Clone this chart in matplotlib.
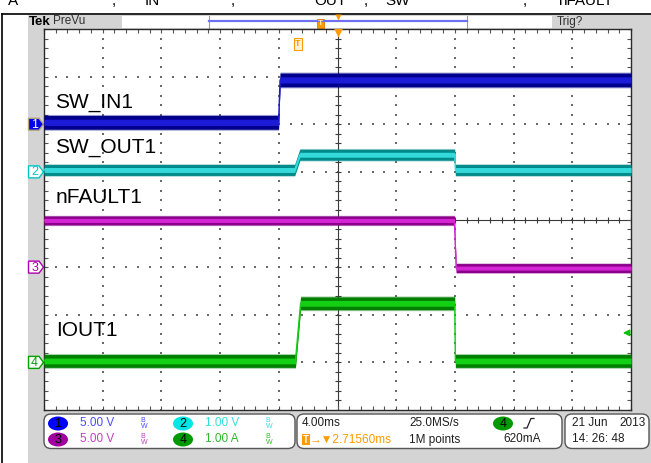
import matplotlib.pyplot as plt
import numpy as np
from matplotlib import font_manager
from matplotlib.patches import Rectangle, Polygon, Ellipse, FancyBboxPatch

# acquisition settings
TIME_DIV = 4.0          # ms/div
TRIG_DELAY = 2.7156     # ms from trigger to screen centre
TRIG_LEVEL = 0.62       # A, ch4 rising edge
SAMPLE_RATE = '25.0MS/s'
RECORD = '1M points'

ch_names = ['SW_IN1', 'SW_OUT1', 'nFAULT1', 'IOUT1']
ch_scale = [5.0, 1.0, 5.0, 1.0]          # units per division
ch_offset = [6.0, 5.0, 3.0, 1.0]         # ground marker, divisions from bottom
ch_scale_text = ['5.00 V', '1.00 V', '5.00 V', '1.00 A']

# captured waveforms, time in ms relative to trigger
sw_in_t = [-17.28, -1.3, -1.2, 22.72]
sw_in_v = [0.2, 0.2, 4.65, 4.65]
sw_out_t = [-17.28, -0.2, 0.15, 10.7, 10.75, 22.72]
sw_out_v = [0.04, 0.04, 0.36, 0.36, 0.04, 0.04]
nfault_t = [-17.28, 10.68, 10.8, 22.72]
nfault_v = [4.9, 4.9, -0.1, -0.1]
iout_t = [-17.28, -0.15, 0.2, 10.7, 10.75, 22.72]
iout_a = [0.03, 0.03, 1.24, 1.24, 0.03, 0.03]

W, H = 651, 463
GX0, GX1, GY0, GY1 = 44, 631, 29, 410     # graticule in pixels
DIV_PX = (GY1 - GY0) / 8.0

names = {f.name for f in font_manager.fontManager.ttflist}
if 'Liberation Sans Narrow' in names:
    SCOPE_FONT, SCOPE_SIZE = 'Liberation Sans Narrow', 10
else:
    SCOPE_FONT, SCOPE_SIZE = 'Liberation Sans', 8.5
LABEL_FONT = 'Liberation Sans'
SYM_FONT = [SCOPE_FONT, 'DejaVu Sans']

GRAY = '#d4d4d4'
ORANGE = '#ff9a00'
trace_col = [('#00008c', '#1c1cd8'), ('#008a8a', '#35dada'),
             ('#8a008a', '#d424d4'), ('#007f00', '#14d014')]
mark_col = ['#0000ee', '#00c8c8', '#b000b0', '#00a000']
text_col = ['#4a4aff', '#33dede', '#c040c0', '#2fb82f']
dot_col = ['#0000ff', '#00e5e5', '#a000a0', '#009900']


def pixel_axes(z):
    a = fig.add_axes([0, 0, 1, 1], zorder=z)
    a.set_xlim(0, W)
    a.set_ylim(H, 0)
    a.axis('off')
    a.patch.set_visible(False)
    return a


fig = plt.figure(figsize=(W / 100, H / 100), dpi=100)

# pixel-space layer for the instrument frame and readouts
deco = pixel_axes(0)

deco.add_patch(Rectangle((28, 14.5), W - 28, H - 14.5, fc=GRAY, ec='none'))
deco.plot([1.5, 1.5], [13.5, H], color='black', lw=1.2)
deco.plot([1.5, W], [13.5, 13.5], color='black', lw=1.2)

# clipped caption line above the screenshot
for x, s in [(8, 'A'), (112, ','), (145, 'IN'), (231, ','), (314, 'OUT'),
             (364, ','), (385, 'SW'), (523, ','), (558, 'nFAULT')]:
    deco.text(x, 5, s, fontsize=11, family=LABEL_FONT, va='baseline')

# top bar
deco.text(29, 22, 'Tek', fontsize=9.5, fontweight='bold', family=LABEL_FONT, va='center')
deco.text(53, 21.5, 'PreVu', fontsize=SCOPE_SIZE, family=SCOPE_FONT, color='#303030', va='center')
deco.text(557, 21.5, 'Trig?', fontsize=SCOPE_SIZE, family=SCOPE_FONT, color='#303030', va='center')
deco.add_patch(Rectangle((122, 15.5), 430, 12.5, fc='white', ec='none'))
RV0, RV1 = 209, 467
for xb in (RV0, RV1):
    deco.plot([xb, xb], [16, 27.5], color='#9a9a9a', lw=0.8)
deco.plot([RV0, RV1], [21, 21], color='#6f6ff2', lw=1.6)
x0 = TRIG_DELAY - 5 * TIME_DIV
rec = 10 * TIME_DIV
t_icon = RV0 + (0 - x0) / rec * (RV1 - RV0)
c_icon = RV0 + (TRIG_DELAY - x0) / rec * (RV1 - RV0)
deco.add_patch(Rectangle((t_icon - 3.5, 18.5), 7, 9.5, fc=ORANGE, ec='#e07800', lw=0.6))
deco.text(t_icon, 23.5, 'T', fontsize=6, color='#ffe9a8', ha='center', va='center',
          family=LABEL_FONT, fontweight='bold')
deco.plot(c_icon, 17, marker='v', ms=5, color=ORANGE, mec='none')

# channel ground markers on the left edge
for i in range(4):
    yp = GY1 - ch_offset[i] * DIV_PX
    pts = [(28.5, yp - 6), (39, yp - 6), (43.5, yp), (39, yp + 6), (28.5, yp + 6)]
    if i == 0:
        deco.add_patch(Polygon(pts, closed=True, fc=mark_col[i], ec='#b8a878', lw=1))
        tc = 'white'
    else:
        deco.add_patch(Polygon(pts, closed=True, fc='white', ec=mark_col[i], lw=1))
        tc = mark_col[i]
    deco.text(34.5, yp + 0.5, str(i + 1), fontsize=9, family=LABEL_FONT, color=tc,
              ha='center', va='center')

# status bar
for bx, bw in [(44, 251), (297, 265), (565, 84)]:
    deco.add_patch(FancyBboxPatch((bx, 414), bw, 34.5,
                                  boxstyle='round,pad=0,rounding_size=7',
                                  fc='white', ec='#555555', lw=1))
R1, R2 = 423.5, 439.5
for ch, (cx, ry) in enumerate([(58, R1), (183, R1), (58, R2), (183, R2)]):
    deco.add_patch(Ellipse((cx, ry), 20, 14, fc=dot_col[ch], ec='none'))
    deco.text(cx, ry + 0.5, str(ch + 1), fontsize=9, family=LABEL_FONT,
              ha='center', va='center')
    deco.text(cx + 22, ry, ch_scale_text[ch], fontsize=SCOPE_SIZE, family=SCOPE_FONT,
              color=text_col[ch], va='center')
    # bandwidth-limit icon
    deco.text(cx + 85, ry, 'B\n W', fontsize=5, family=LABEL_FONT, color=text_col[ch],
              ha='center', va='center', linespacing=0.75)

deco.text(302, R1, '%.2fms' % TIME_DIV, fontsize=SCOPE_SIZE, family=SCOPE_FONT,
          color='#202020', va='center')
deco.add_patch(Rectangle((302, R2 - 5.5), 7.5, 11, fc=ORANGE, ec='none'))
deco.text(305.75, R2 + 0.5, 'T', fontsize=7, color='white', ha='center', va='center',
          family=LABEL_FONT, fontweight='bold')
deco.text(309.5, R2, '\u2192\u25bc%.5fms' % TRIG_DELAY, fontsize=SCOPE_SIZE,
          family=SYM_FONT, color=ORANGE, va='center')
deco.text(409, R1, SAMPLE_RATE, fontsize=SCOPE_SIZE, family=SCOPE_FONT,
          color='#202020', va='center')
deco.text(409, R2, RECORD, fontsize=SCOPE_SIZE, family=SCOPE_FONT,
          color='#202020', va='center')
deco.add_patch(Ellipse((503, R1), 20, 14, fc=dot_col[3], ec='none'))
deco.text(503, R1 + 0.5, '4', fontsize=9, family=LABEL_FONT, ha='center', va='center')
deco.plot([524, 527, 531, 534], [428, 428, 418.5, 418.5], color='#202020', lw=0.9)
deco.text(503, R2, '%dmA' % round(TRIG_LEVEL * 1000), fontsize=SCOPE_SIZE,
          family=SCOPE_FONT, color='#202020', va='center')
deco.text(572, R1, '21 Jun', fontsize=SCOPE_SIZE, family=SCOPE_FONT, color='#202020', va='center')
deco.text(646, R1, '2013', fontsize=SCOPE_SIZE, family=SCOPE_FONT, color='#202020',
          va='center', ha='right')
deco.text(572, R2, '14: 26: 48', fontsize=SCOPE_SIZE, family=SCOPE_FONT,
          color='#202020', va='center')

# graticule
ax = fig.add_axes([GX0 / W, 1 - GY1 / H, (GX1 - GX0) / W, (GY1 - GY0) / H], zorder=1)
ax.set_facecolor('white')
ax.set_xlim(x0, x0 + rec)
ax.set_ylim(0, 8)
for sp in ax.spines.values():
    sp.set_color('#2a2a2a')
    sp.set_linewidth(1)
fine_x = x0 + np.arange(0, 51) * TIME_DIV / 5
fine_y = np.arange(0, 41) / 5.0
ax.set_xticks(fine_x)
ax.set_yticks(fine_y)
ax.tick_params(direction='in', length=3, width=0.8, color='#555555',
               top=True, right=True, labelbottom=False, labelleft=False)

for k in range(1, 10):
    if k == 5:
        continue
    ax.scatter(np.full(fine_y.size, x0 + k * TIME_DIV), fine_y, s=1.2,
               marker='s', color='#6a6a6a', lw=0, zorder=1)
for k in range(1, 8):
    if k == 4:
        continue
    ax.scatter(fine_x, np.full(fine_x.size, k), s=1.2,
               marker='s', color='#6a6a6a', lw=0, zorder=1)
ax.axvline(TRIG_DELAY, color='#3a3a3a', lw=0.8, zorder=1)
ax.axhline(4, color='#3a3a3a', lw=0.8, zorder=1)
ax.plot(np.full(fine_y.size, TRIG_DELAY), fine_y, ls='none', marker='_',
        ms=4, mew=0.8, color='#3a3a3a', zorder=1)
ax.plot(fine_x, np.full(fine_x.size, 4), ls='none', marker='|',
        ms=4, mew=0.8, color='#3a3a3a', zorder=1)


def trace(t, v, ch, h):
    y = ch_offset[ch] + np.asarray(v) / ch_scale[ch]
    outer, inner = trace_col[ch]
    ax.fill_between(t, y - h * 1.15, y + h * 1.15, color=outer, alpha=0.35, lw=0, zorder=3)
    ax.fill_between(t, y - h, y + h, color=outer, lw=0, zorder=3)
    ax.fill_between(t, y - h * 0.45, y + h * 0.45, color=inner, lw=0, zorder=3)
    ax.plot(t, y, color=inner, lw=1.0, zorder=3)


trace(sw_in_t, sw_in_v, 0, 0.145)
trace(sw_out_t, sw_out_v, 1, 0.115)
trace(nfault_t, nfault_v, 2, 0.095)
trace(iout_t, iout_a, 3, 0.135)

# trigger point and expansion point on the graticule
ax.plot(TRIG_DELAY, 7.93, marker='v', ms=7, color=ORANGE, mec='none', zorder=4)
ax.text(0, 7.69, 'T', fontsize=6.5, color=ORANGE, ha='center', va='center',
        family=LABEL_FONT, fontweight='bold', zorder=4,
        bbox=dict(boxstyle='square,pad=0.15', fc='#fff2dc', ec=ORANGE, lw=0.8))

# overlay: trace labels and trigger level arrow
top = pixel_axes(2)
for s, (x, y) in zip(ch_names, [(55, 108), (55, 153), (56, 203), (56, 335.7)]):
    top.text(x, y, s, fontsize=15, family=LABEL_FONT, va='baseline')
ylev = GY1 - (ch_offset[3] + TRIG_LEVEL / ch_scale[3]) * DIV_PX
top.annotate('', xy=(620, ylev), xytext=(630, ylev),
             arrowprops=dict(arrowstyle='-|>', color='#10c010', lw=1.2, mutation_scale=9))

fig.savefig('out.png', dpi=100)
